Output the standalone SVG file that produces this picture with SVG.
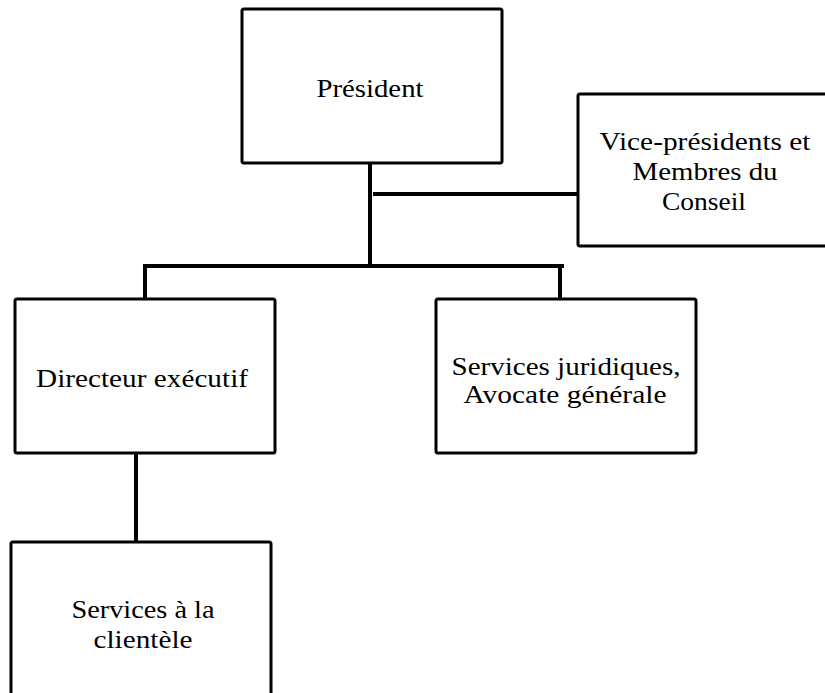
<svg xmlns="http://www.w3.org/2000/svg" width="825" height="693" viewBox="0 0 825 693">
<style>
.box{fill:#fff;stroke:#000;stroke-width:3;stroke-linejoin:round}
.c{fill:none;stroke:#000;stroke-width:4}
.t{font-family:"Liberation Serif","DejaVu Serif","Noto Serif",serif;font-size:25px;fill:#000;text-anchor:middle}
</style>
<rect width="825" height="693" fill="#fff"/>
<g id="connectors">
<line class="c" x1="370" y1="162" x2="370" y2="266"/>
<line class="c" x1="373" y1="194" x2="579" y2="194"/>
<line class="c" x1="143" y1="266" x2="564" y2="266"/>
<line class="c" x1="145" y1="264" x2="145" y2="299"/>
<line class="c" x1="560" y1="264" x2="560" y2="299"/>
<line class="c" x1="136" y1="449" x2="136" y2="542"/>
</g>
<g id="president">
<rect class="box" x="242" y="9" width="260" height="154" rx="2"/>
<text class="t" x="370" y="97" textLength="107" lengthAdjust="spacingAndGlyphs">Président</text>
</g>
<g id="vice">
<rect class="box" x="578" y="94" width="260" height="152" rx="2"/>
<text class="t" x="705" y="150" textLength="211" lengthAdjust="spacingAndGlyphs">Vice-présidents et</text>
<text class="t" x="705" y="180" textLength="145" lengthAdjust="spacingAndGlyphs">Membres du</text>
<text class="t" x="704" y="210" textLength="84" lengthAdjust="spacingAndGlyphs">Conseil</text>
</g>
<g id="directeur">
<rect class="box" x="15" y="299" width="260" height="154" rx="2"/>
<text class="t" x="142" y="387" textLength="212" lengthAdjust="spacingAndGlyphs">Directeur exécutif</text>
</g>
<g id="juridiques">
<rect class="box" x="436" y="299" width="260" height="154" rx="2"/>
<text class="t" x="566" y="375" textLength="229" lengthAdjust="spacingAndGlyphs">Services juridiques,</text>
<text class="t" x="565" y="403" textLength="203" lengthAdjust="spacingAndGlyphs">Avocate générale</text>
</g>
<g id="clientele">
<rect class="box" x="11" y="542" width="260" height="170" rx="2"/>
<text class="t" x="143" y="618" textLength="143" lengthAdjust="spacingAndGlyphs">Services à la</text>
<text class="t" x="143" y="648" textLength="99" lengthAdjust="spacingAndGlyphs">clientèle</text>
</g>
</svg>
